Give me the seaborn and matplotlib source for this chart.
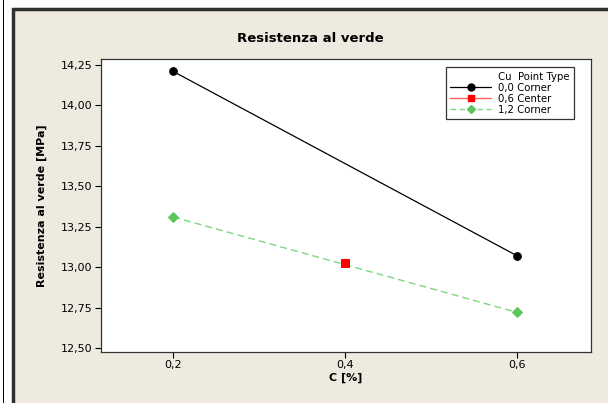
import matplotlib
matplotlib.use("Agg")
import matplotlib.pyplot as plt
import seaborn as sns
import pandas as pd
from matplotlib.ticker import FuncFormatter, FixedLocator
from matplotlib.lines import Line2D
from matplotlib.patches import Rectangle

# Data
c_corner0 = [0.2, 0.6]
r_corner0 = [14.21, 13.07]
c_center = [0.4]
r_center = [13.025]
c_corner12 = [0.2, 0.6]
r_corner12 = [13.31, 12.72]
labels = ["0,0 Corner", "0,6 Center", "1,2 Corner"]
x_ticks = [0.2, 0.4, 0.6]
y_ticks = [12.50, 12.75, 13.00, 13.25, 13.50, 13.75, 14.00, 14.25]

sns.set_theme(style="white")
plt.rcParams['font.family'] = ['DejaVu Sans']
plt.rcParams['text.color'] = 'black'
plt.rcParams['axes.labelcolor'] = 'black'

W, H = 608, 403
fig = plt.figure(figsize=(W / 100, H / 100), dpi=100, facecolor="white")

beige = "#EEEAE0"
fig.patches.append(Rectangle((3 / W, 0), 1.2 / W, 1, transform=fig.transFigure,
                             facecolor="black", edgecolor="none", zorder=-10))
fig.patches.append(Rectangle((13 / W, -0.01), 1 - 13 / W + 0.01, 1 - 9 / H + 0.01,
                             transform=fig.transFigure,
                             facecolor=beige, edgecolor="#303030", linewidth=2.5, zorder=-10))

ax = fig.add_axes([101 / W, 1 - 352 / H, (591 - 101) / W, (352 - 59) / H])
ax.set_facecolor("white")
ax.set_zorder(1)

df0 = pd.DataFrame({"C": c_corner0, "R": r_corner0})
dfc = pd.DataFrame({"C": c_center, "R": r_center})
df12 = pd.DataFrame({"C": c_corner12, "R": r_corner12})

sns.lineplot(data=df0, x="C", y="R", ax=ax, color="black", marker="o", markersize=5.5,
             markeredgecolor="black", linewidth=0.9)
sns.lineplot(data=df12, x="C", y="R", ax=ax, color="#7FD67F", linewidth=1.0,
             marker="D", markersize=5, markeredgecolor="#5CC65C", markerfacecolor="#5CC65C")
ax.lines[-1].set_dashes([5, 3])
sns.lineplot(data=dfc, x="C", y="R", ax=ax, color="red", marker="s", markersize=5.5,
             markeredgecolor="red", linewidth=1.0)

ax.set_xlim(0.116, 0.686)
ax.set_ylim(12.475, 14.287)
ax.xaxis.set_major_locator(FixedLocator(x_ticks))
ax.yaxis.set_major_locator(FixedLocator(y_ticks))
ax.xaxis.set_major_formatter(FuncFormatter(lambda v, p: f"{v:.1f}".replace(".", ",")))
ax.yaxis.set_major_formatter(FuncFormatter(lambda v, p: f"{v:.2f}".replace(".", ",")))
ax.tick_params(axis="both", which="major", direction="out", length=4, width=0.8,
               color="black", labelsize=8, labelcolor="black", bottom=True, left=True, pad=2)

for s in ax.spines.values():
    s.set_color("#333333")
    s.set_linewidth(0.9)

ax.set_xlabel("C [%]", fontsize=8, fontweight="bold", labelpad=2, color="black")
ax.set_ylabel("Resistenza al verde [MPa]", fontsize=8, fontweight="bold", labelpad=10, color="black")
fig.text(310 / W, 1 - 38 / H, "Resistenza al verde", ha="center", va="center",
         fontsize=9.5, fontweight="bold", color="black")

handles = [
    Line2D([], [], linestyle="none", marker=None),
    Line2D([], [], color="black", marker="o", markersize=5, linewidth=0.9),
    Line2D([], [], color="#FF6060", marker="s", markersize=5, markerfacecolor="red",
           markeredgecolor="red", linewidth=1.0),
    Line2D([], [], color="#7FD67F", marker="D", markersize=4.5, markerfacecolor="#5CC65C",
           markeredgecolor="#5CC65C", linewidth=1.0, dashes=[4, 2.5]),
]
leg = ax.legend(handles, ["Cu  Point Type"] + labels, loc="upper right",
                bbox_to_anchor=(574 / W, 1 - 67 / H), bbox_transform=fig.transFigure,
                fontsize=7.3, frameon=True, fancybox=False, handlelength=4.0,
                handletextpad=0.7, labelspacing=0.1, borderpad=0.45, borderaxespad=0)
leg.get_frame().set_edgecolor("black")
leg.get_frame().set_linewidth(0.9)
for t in leg.get_texts():
    t.set_color("black")

fig.savefig("out.png", dpi=100, facecolor="white")
